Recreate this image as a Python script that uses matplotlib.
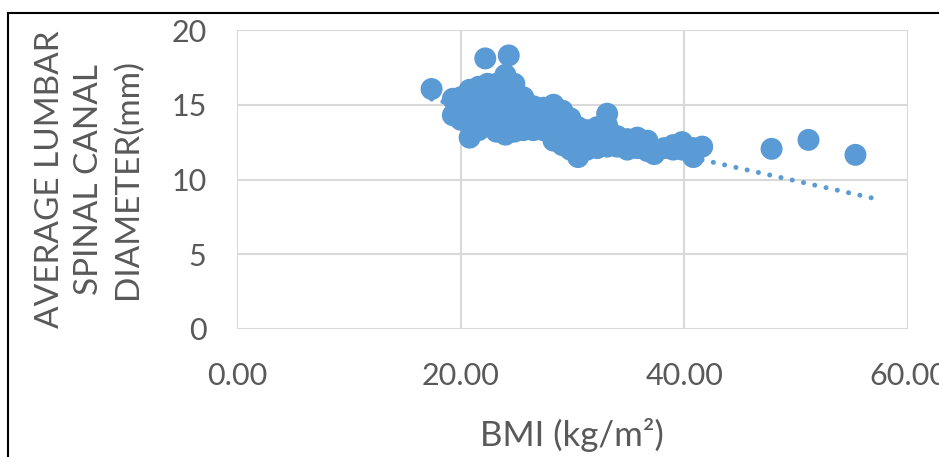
import matplotlib
matplotlib.use("Agg")
import matplotlib.pyplot as plt
from matplotlib.lines import Line2D

# ---- data ----
bmi = [17.4,
       19.3, 19.3,
       20.0, 20.0, 20.0,
       20.8, 20.8, 20.8, 20.8, 20.8,
       21.6, 21.6, 21.6, 21.6, 21.6,
       22.2,
       22.4, 22.4, 22.4, 22.4, 22.4,
       23.2, 23.2, 23.2, 23.2, 23.2,
       24.0, 24.0, 24.0, 24.0, 24.0, 24.0,
       24.3,
       24.8, 24.8, 24.8, 24.8, 24.8,
       25.6, 25.6, 25.6, 25.6,
       26.5, 26.5, 26.5,
       27.4, 27.4, 27.4,
       28.3, 28.3, 28.3, 28.3,
       29.1, 29.1, 29.1, 29.1,
       29.8, 29.8, 29.8, 29.8,
       30.5, 30.5, 30.5, 30.5,
       31.3, 31.3, 31.3,
       32.2, 32.2, 32.2,
       33.1, 33.1, 33.1, 33.1,
       34.0, 34.0,
       34.9, 34.9,
       35.8, 35.8,
       36.7, 36.7,
       37.3,
       38.2,
       39.0, 39.0,
       39.8, 39.8,
       40.8, 40.8,
       41.6,
       47.8, 51.1, 55.3]
diameter = [16.05,
            14.3, 15.4,
            14.0, 14.8, 15.5,
            12.8, 13.7, 14.5, 15.3, 16.0,
            13.3, 14.0, 14.8, 15.6, 16.2,
            18.1,
            13.6, 14.4, 15.2, 16.0, 16.4,
            13.2, 14.0, 14.8, 15.6, 16.4,
            13.0, 13.8, 14.6, 15.4, 16.2, 17.0,
            18.3,
            13.2, 14.0, 14.8, 15.6, 16.4,
            13.3, 14.1, 14.9, 15.5,
            13.3, 14.1, 14.9,
            13.3, 14.1, 14.8,
            12.6, 13.4, 14.2, 15.0,
            12.3, 13.1, 13.9, 14.6,
            12.0, 12.8, 13.6, 14.1,
            11.5, 12.3, 13.0, 13.5,
            12.0, 12.7, 13.3,
            12.1, 12.8, 13.5,
            12.2, 12.9, 13.6, 14.4,
            12.2, 12.9,
            12.0, 12.7,
            12.1, 12.8,
            11.9, 12.6,
            11.7,
            12.1,
            12.0, 12.3,
            12.0, 12.5,
            11.5, 12.1,
            12.2,
            12.05, 12.65, 11.65]

trend_x = [17.4, 57.4]
trend_y = [15.38, 8.66]

x_ticks = [0, 20, 40, 60]
x_tick_labels = ["0.00", "20.00", "40.00", "60.00"]
y_ticks = [0, 5, 10, 15, 20]
y_tick_labels = ["0", "5", "10", "15", "20"]

x_label = "BMI (kg/m²)"
y_label = "AVERAGE LUMBAR\nSPINAL CANAL\nDIAMETER(mm)"

# ---- figure ----
W, H = 939, 457
fig = plt.figure(figsize=(W / 100, H / 100), dpi=100)
fig.patch.set_facecolor("white")
plt.rcParams["font.family"] = ["Lato", "DejaVu Sans"]

ax = fig.add_axes([237 / W, 1 - 329 / H, (908 - 237) / W, (329 - 30) / H])
blue = "#5B9BD5"
grey_txt = "#595959"

ax.plot(trend_x, trend_y, color=blue, linewidth=3.6, linestyle=(0, (0.01, 2.3)),
        dash_capstyle="round", zorder=2)
ax.scatter(bmi, diameter, s=250, color=blue, edgecolors="none", zorder=3)

ax.set_xlim(0, 60)
ax.set_ylim(0, 20)
ax.set_xticks(x_ticks)
ax.set_xticklabels(x_tick_labels)
ax.set_yticks(y_ticks)
ax.set_yticklabels(y_tick_labels)
ax.grid(True, color="#D9D9D9", linewidth=1.5, zorder=0)
ax.set_axisbelow(True)
for s in ax.spines.values():
    s.set_visible(False)
ax.tick_params(axis="both", length=0, labelsize=22, labelcolor=grey_txt)
ax.tick_params(axis="x", pad=24)
ax.tick_params(axis="y", pad=22)

fig.text(572 / W, 1 - 435 / H, x_label, ha="center", va="center",
         fontsize=25, color=grey_txt)
fig.text(89 / W, 1 - 179 / H, y_label, ha="center", va="center",
         rotation=90, fontsize=24, color=grey_txt, linespacing=1.38,
         multialignment="center")

# black frame (left and top edges visible)
fig.add_artist(Line2D([8 / W, 8 / W], [0, 1 - 13 / H], color="black",
                      linewidth=1.5, transform=fig.transFigure))
fig.add_artist(Line2D([8 / W, 1.0], [1 - 13 / H, 1 - 13 / H], color="black",
                      linewidth=1.5, transform=fig.transFigure))

fig.savefig("out.png", dpi=100, facecolor="white")
